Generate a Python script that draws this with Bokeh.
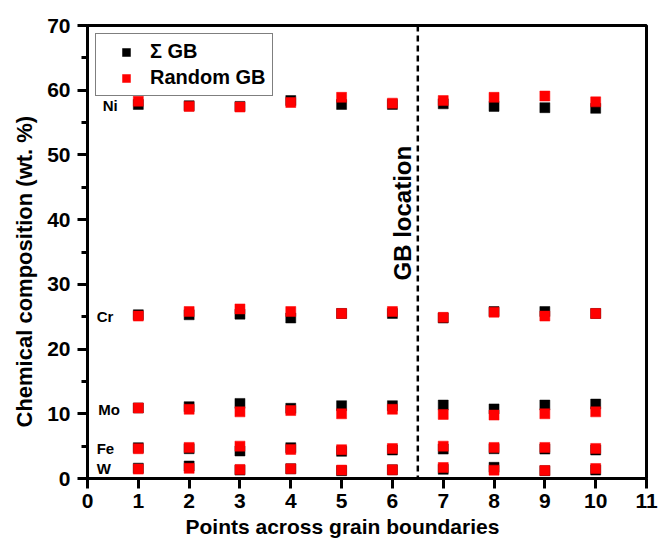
import numpy as np
from bokeh.plotting import figure
from bokeh.models import (ColumnDataSource, Span, Legend, LegendItem, Title,
                          SingleIntervalTicker, FixedTicker, Range1d)
from bokeh.core.properties import value
from bokeh.embed import file_html
from bokeh.resources import INLINE

# ---------------- data ----------------
points = [1, 2, 3, 4, 5, 6, 7, 8, 9, 10]
elements = ["Ni", "Cr", "Mo", "Fe", "W"]

sigma_ni = [57.8, 57.6, 57.5, 58.4, 57.8, 57.8, 57.9, 57.5, 57.3, 57.2]
random_ni = [58.3, 57.5, 57.4, 58.1, 58.9, 58.0, 58.4, 58.9, 59.1, 58.2]
sigma_cr = [25.3, 25.3, 25.4, 24.8, 25.5, 25.5, 24.8, 25.8, 25.8, 25.5]
random_cr = [25.1, 25.8, 26.2, 25.8, 25.5, 25.8, 24.9, 25.7, 25.1, 25.5]
sigma_mo = [10.9, 11.1, 11.6, 10.85, 11.25, 11.25, 11.35, 10.75, 11.35, 11.5]
random_mo = [10.9, 10.7, 10.3, 10.5, 10.0, 10.7, 9.9, 9.8, 10.0, 10.3]
sigma_fe = [4.76, 4.6, 4.25, 4.76, 4.2, 4.4, 4.55, 4.6, 4.55, 4.4]
random_fe = [4.6, 4.8, 5.0, 4.5, 4.45, 4.64, 5.0, 4.8, 4.8, 4.65]
sigma_w = [1.6, 1.93, 1.3, 1.5, 1.2, 1.34, 1.42, 1.73, 1.2, 1.3]
random_w = [1.45, 1.57, 1.4, 1.5, 1.3, 1.34, 1.7, 1.29, 1.24, 1.55]

gb_location = 6.5
x_ticks = [0, 1, 2, 3, 4, 5, 6, 7, 8, 9, 10, 11]

x_title = "Points across grain boundaries"
y_title = "Chemical composition (wt. %)"

# element label anchors (annotation positions)
label_x = [0.3, 0.18, 0.21, 0.18, 0.18]
label_y = [57.6, 25.0, 10.7, 4.7, 1.5]

sigma_series = [sigma_ni, sigma_cr, sigma_mo, sigma_fe, sigma_w]
random_series = [random_ni, random_cr, random_mo, random_fe, random_w]

FONT = "Liberation Sans"

p = figure(width=658, height=543, output_backend="svg", toolbar_location=None,
           x_range=Range1d(0, 11), y_range=Range1d(0, 70),
           min_border_left=87, min_border_right=12, min_border_top=25,
           min_border_bottom=65)
p.grid.visible = False
p.background_fill_color = "white"
p.border_fill_color = "white"
p.outline_line_color = "black"
p.outline_line_width = 3

xs = np.tile(points, len(elements))
src_sigma = ColumnDataSource(dict(x=xs, y=np.concatenate(sigma_series)))
src_random = ColumnDataSource(dict(x=xs, y=np.concatenate(random_series)))

r_sigma = p.scatter("x", "y", source=src_sigma, marker="square", size=10,
                    fill_color="black", line_color="black", line_width=0.5)
r_random = p.scatter("x", "y", source=src_random, marker="square", size=10,
                     fill_color="#ff0000", line_color="#ff0000", line_width=0.5)

# GB dashed line
p.add_layout(Span(location=gb_location, dimension="height", line_color="black",
                  line_width=2.5, line_dash="6 4"))

# element labels
p.text(x=label_x, y=label_y, text=elements, text_font=value(FONT),
       text_font_style="bold", text_font_size="15px", text_align="left",
       text_baseline="middle", text_color="black")

# GB location label
p.text(x=[6.2], y=[41], text=["GB location"], angle=np.pi / 2,
       text_font=value(FONT), text_font_style="bold", text_font_size="24px",
       text_align="center", text_baseline="middle", text_color="black")

# axes
for ax in (p.xaxis[0], p.yaxis[0]):
    ax.axis_line_width = 3
    ax.major_tick_line_width = 3
    ax.minor_tick_line_width = 3
    ax.major_tick_out = 10
    ax.major_tick_in = 0
    ax.minor_tick_out = 6
    ax.minor_tick_in = 0
    ax.major_label_text_font = FONT
    ax.major_label_text_font_style = "bold"
    ax.major_label_text_font_size = "21px"
    ax.major_label_text_color = "black"

p.xaxis.ticker = FixedTicker(ticks=x_ticks)
p.yaxis.ticker = SingleIntervalTicker(interval=10, num_minor_ticks=2)
p.xaxis.major_label_standoff = 5
p.yaxis.major_label_standoff = 7

# axis titles (placed as titles so they can be offset like the reference)
p.add_layout(Title(text=x_title, align="left", offset=98,
                   text_font=FONT, text_font_style="bold",
                   text_font_size="21px", text_color="black",
                   standoff=4), "below")
p.add_layout(Title(text=y_title, align="left", offset=51,
                   text_font=FONT, text_font_style="bold",
                   text_font_size="22px", text_color="black",
                   standoff=16), "left")

legend = Legend(items=[LegendItem(label="\u03a3 GB", renderers=[r_sigma]),
                       LegendItem(label="Random GB", renderers=[r_random])],
                location="top_left")
legend.margin = 8
legend.padding = 6
legend.spacing = 3
legend.glyph_width = 48
legend.glyph_height = 20
legend.label_height = 20
legend.label_standoff = 0
legend.label_text_font = FONT
legend.label_text_font_style = "bold"
legend.label_text_font_size = "20px"
legend.label_text_color = "black"
legend.border_line_color = "black"
legend.border_line_width = 1
legend.background_fill_alpha = 1
p.add_layout(legend)

open("out.html", "w").write(file_html(p, INLINE))
